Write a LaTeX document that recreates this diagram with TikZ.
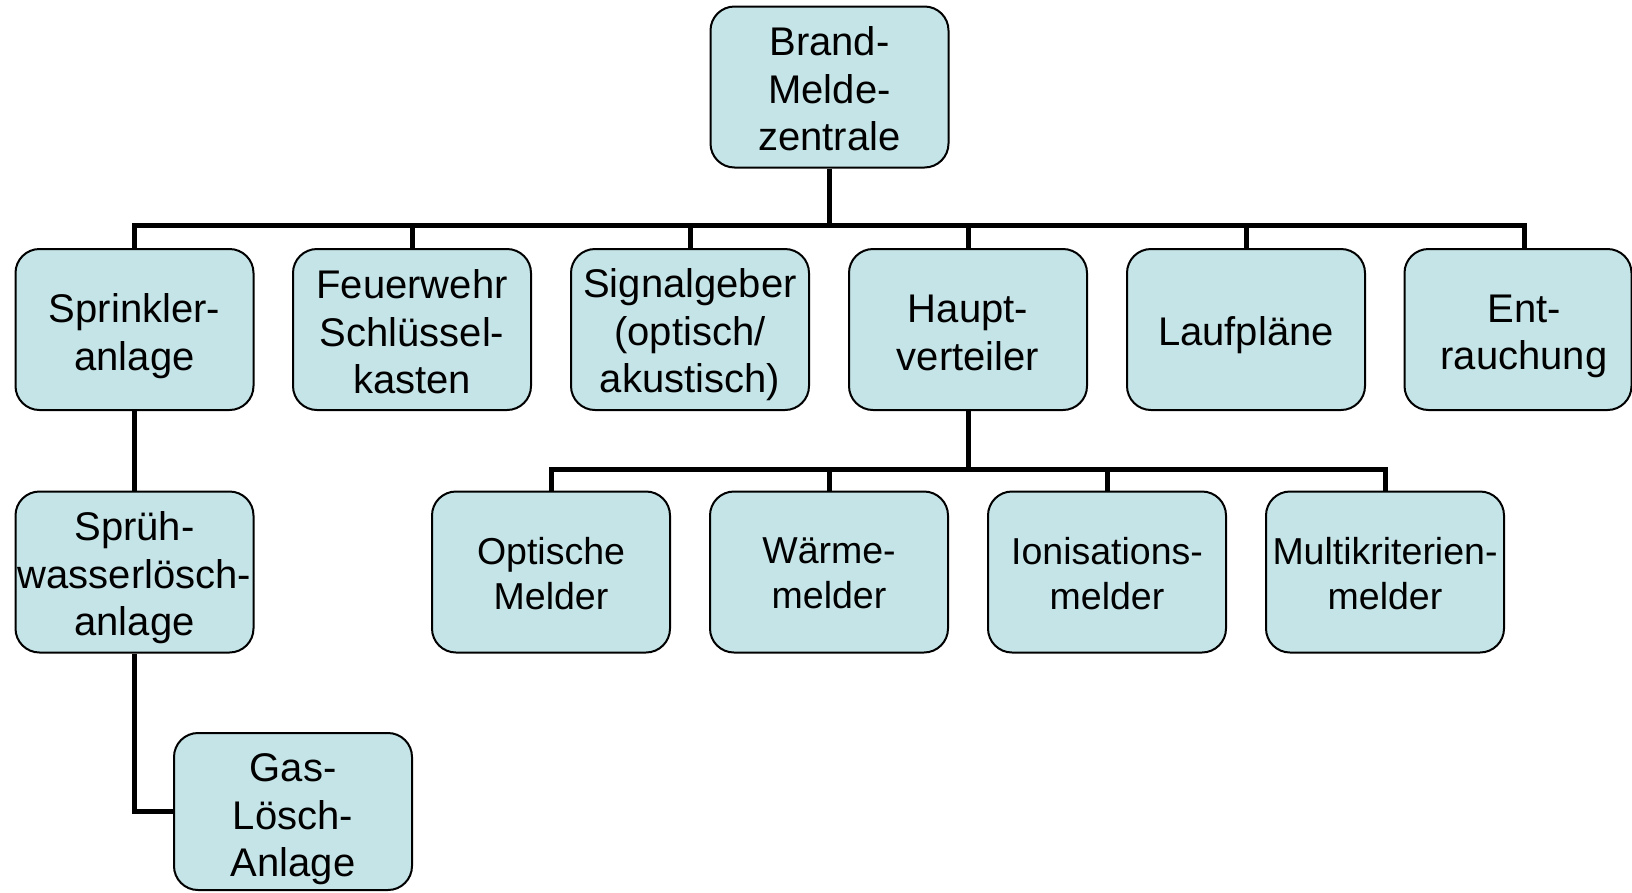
\documentclass[tikz,border=0pt]{standalone}
\usepackage{fontspec}
\setmainfont{Liberation Sans}
\usetikzlibrary{backgrounds}
\definecolor{boxfill}{RGB}{197,228,231}
\tikzset{
  orgbox/.style={draw=black, line width=2pt, fill=boxfill, rounded corners=24pt,
    minimum width=238pt, minimum height=161pt, inner sep=0pt},
  bigtext/.style={align=center, inner sep=0pt, font=\fontsize{40}{47.5}\selectfont},
  smalltext/.style={align=center, inner sep=0pt, font=\fontsize{37.5}{44.5}\selectfont},
  conn/.style={draw=black, line width=5pt, line join=miter}
}
\begin{document}
\begin{tikzpicture}[x=1pt,y=-1pt]
\useasboundingbox (0,0) rectangle (1632,892);
% top
\node[orgbox] (top) at (829.5,87) {};
\node[bigtext] (topt) at (829.5,89) {Brand-\\Melde-\\zentrale};
% row 1
\node[orgbox] (c1) at (134.5,329.5) {};
\node[bigtext] (c1t) at (134.5,336) {Sprinkler-\\anlage};
\node[orgbox] (c2) at (412,329.5) {};
\node[bigtext] (c2t) at (412,332) {Feuerwehr\\Schlüssel-\\kasten};
\node[orgbox] (c3) at (690,329.5) {};
\node[bigtext] (c3t) at (690,335) {Signalgeber\\(optisch/\\akustisch)};
\node[orgbox] (c4) at (968,329.5) {};
\node[bigtext] (c4t) at (968,333) {Haupt-\\verteiler};
\node[orgbox] (c5) at (1246,329.5) {};
\node[bigtext] (c5t) at (1246,335) {Laufpläne};
\node[orgbox, minimum width=227pt] (c6) at (1518,329.5) {};
\node[bigtext] (c6t) at (1524,336.5) {Ent-\\rauchung};
% row 2
\node[orgbox] (d1) at (551,572) {};
\node[smalltext] (d1t) at (551,573.5) {Optische\\Melder};
\node[orgbox] (d2) at (829,572) {};
\node[smalltext] (d2t) at (829,573.5) {Wärme-\\melder};
\node[orgbox] (d3) at (1107,572) {};
\node[smalltext] (d3t) at (1107,573.5) {Ionisations-\\melder};
\node[orgbox] (d4) at (1385,572) {};
\node[smalltext] (d4t) at (1385,573.5) {Multikriterien-\\melder};
% sprinkler chain
\node[orgbox] (s1) at (134.5,572) {};
\node[bigtext] (s1t) at (134.5,578) {Sprüh-\\wasserlösch-\\anlage};
\node[orgbox, minimum height=157pt] (s2) at (293,811.5) {};
\node[bigtext] (s2t) at (293,819.5) {Gas-\\Lösch-\\Anlage};
% bus points
\coordinate (b1) at (829.5,225);
\coordinate (b2) at (968,469);
\begin{pgfonlayer}{background}
\draw[conn] (top.south) -- (b1);
\foreach \n in {c1,c2,c3,c4,c5} \draw[conn] (b1) -| (\n.north);
\draw[conn] (b1) -| (c6.north -| c6t);
\draw[conn] (c4.south) -- (b2);
\foreach \n in {d1,d2,d3,d4} \draw[conn] (b2) -| (\n.north);
\draw[conn] (c1.south) -- (s1.north);
\draw[conn] (s1.south) |- (s2.west);
\end{pgfonlayer}
\end{tikzpicture}
\end{document}
